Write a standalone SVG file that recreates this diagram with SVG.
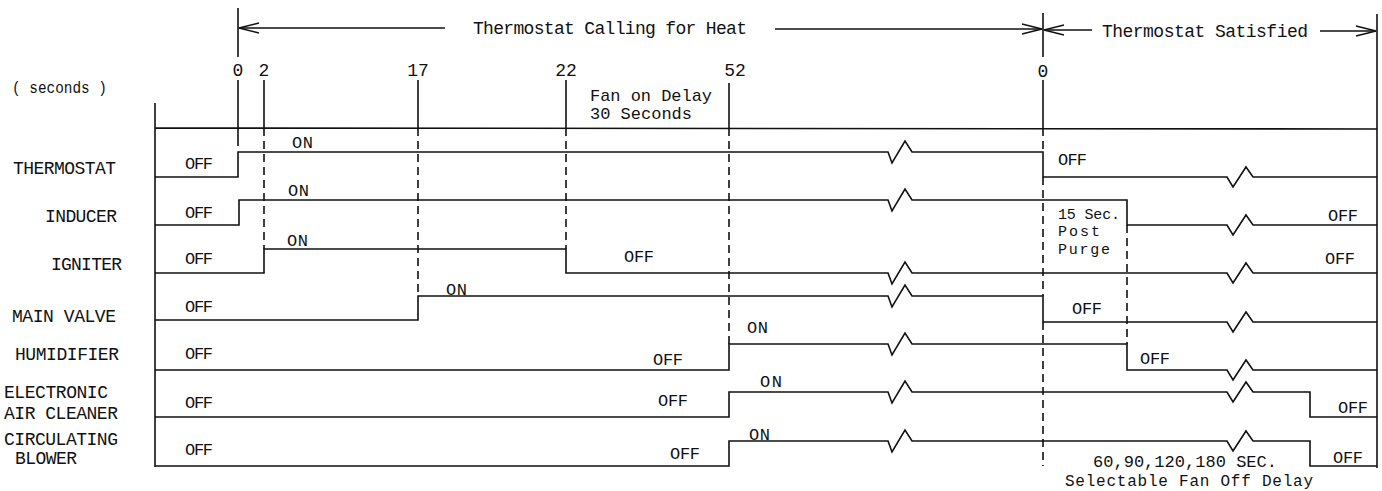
<svg xmlns="http://www.w3.org/2000/svg" width="1382" height="491" viewBox="0 0 1382 491">
<style>
.ln{fill:none;stroke:#111;stroke-width:1.6}
.dash{fill:none;stroke:#111;stroke-width:1.6;stroke-dasharray:8 5}
text{font-family:"Liberation Mono","DejaVu Sans Mono",monospace;fill:#111}
.lg{font-size:18px}
.md{font-size:17px}
.num{font-size:18px}
.sm{font-size:17px}
.xs{font-size:15px}
</style>
<defs>
<marker id="arr" viewBox="0 0 22 12" refX="21" refY="6" markerWidth="22" markerHeight="12" markerUnits="userSpaceOnUse" orient="auto">
<path d="M1,1 L21,6 L1,11" fill="none" stroke="#111" stroke-width="1.4"/>
</marker>
</defs>
<rect width="1382" height="491" fill="#fff"/>

<g id="frame">
<path class="ln" d="M155,103 L155,467 M155,128 L1377,129 M1377,14 L1377,468"/>
<path class="ln" d="M238,8 L238,57 M238,80 L238,146 M264,80 L264,128 M418,80 L418,128 M566,80 L566,128 M729,83 L729,128 M1043,13 L1043,57 M1043,80 L1043,128"/>
<path class="dash" d="M264,128 L264,249 M418,128 L418,296 M566,128 L566,249 M729,128 L729,344 M1043,128 L1043,152 M1043,177 L1043,296 M1043,322 L1043,466 M1127,225 L1127,344"/>
<text x="12" y="93" textLength="95" lengthAdjust="spacingAndGlyphs" style="font-size:16px">( seconds )</text>
<text class="num" x="238" y="76" text-anchor="middle">0</text>
<text class="num" x="264" y="76" text-anchor="middle">2</text>
<text class="num" x="418" y="76" text-anchor="middle">17</text>
<text class="num" x="566" y="76" text-anchor="middle">22</text>
<text class="num" x="735" y="76" text-anchor="middle">52</text>
<text class="num" x="1043" y="77" text-anchor="middle">0</text>
<text class="md" x="590" y="101" textLength="122">Fan on Delay</text>
<text class="md" x="590" y="119" textLength="102">30 Seconds</text>
</g>

<g id="connectors">
<line class="ln" x1="445" y1="28" x2="239" y2="28" marker-end="url(#arr)"/>
<line class="ln" x1="775" y1="29" x2="1042" y2="29" marker-end="url(#arr)"/>
<line class="ln" x1="1092" y1="30" x2="1044" y2="30" marker-end="url(#arr)"/>
<line class="ln" x1="1320" y1="31" x2="1376" y2="31" marker-end="url(#arr)"/>
<text class="lg" x="473" y="34" textLength="274">Thermostat Calling for Heat</text>
<text class="lg" x="1102" y="37" textLength="206">Thermostat Satisfied</text>
</g>

<g id="thermostat">
<text class="lg" x="13" y="174" textLength="103">THERMOSTAT</text>
<path class="ln" d="M155,177 L238,177 L238,152 L888,152 L892,163 L905,141 L912,152 L1043,152 L1043,177 L1227,177 L1233,187 L1246,167 L1253,177 L1377,177"/>
<text class="sm" x="185" y="169" textLength="28">OFF</text>
<text class="sm" x="292" y="148" textLength="21">ON</text>
<text class="sm" x="1058" y="165" textLength="29">OFF</text>
</g>

<g id="inducer">
<text class="lg" x="45" y="222" textLength="72">INDUCER</text>
<path class="ln" d="M155,225 L239,225 L239,200 L888,200 L892,211 L905,189 L912,200 L1127,200 L1127,225 L1227,225 L1233,235 L1246,215 L1253,225 L1377,225"/>
<text class="sm" x="185" y="218" textLength="28">OFF</text>
<text class="sm" x="288" y="196" textLength="21">ON</text>
<text class="sm" x="1328" y="221" textLength="30">OFF</text>
<text class="xs" x="1058" y="219" textLength="62">15 Sec.</text>
<text class="xs" x="1058" y="236" textLength="42">Post</text>
<text class="xs" x="1058" y="254" textLength="52">Purge</text>
</g>

<g id="igniter">
<text class="lg" x="51" y="270" textLength="71">IGNITER</text>
<path class="ln" d="M155,273 L264,273 L264,249 L566,249 L566,273 L888,273 L892,284 L905,262 L912,273 L1227,273 L1233,283 L1246,263 L1253,273 L1377,273"/>
<text class="sm" x="185" y="264" textLength="28">OFF</text>
<text class="sm" x="287" y="246" textLength="21">ON</text>
<text class="sm" x="624" y="262" textLength="30">OFF</text>
<text class="sm" x="1325" y="264" textLength="30">OFF</text>
</g>

<g id="main-valve">
<text class="lg" x="12" y="322" textLength="104">MAIN VALVE</text>
<path class="ln" d="M155,320 L418,320 L418,296 L888,296 L892,307 L905,285 L912,296 L1043,296 L1043,322 L1227,322 L1233,332 L1246,312 L1253,322 L1377,322"/>
<text class="sm" x="185" y="312" textLength="28">OFF</text>
<text class="sm" x="446" y="295" textLength="21">ON</text>
<text class="sm" x="1072" y="314" textLength="30">OFF</text>
</g>

<g id="humidifier">
<text class="lg" x="15" y="360" textLength="104">HUMIDIFIER</text>
<path class="ln" d="M155,370 L729,370 L729,344 L888,344 L892,355 L905,333 L912,344 L1127,344 L1127,370 L1227,370 L1233,380 L1246,360 L1253,370 L1377,370"/>
<text class="sm" x="185" y="359" textLength="28">OFF</text>
<text class="sm" x="747" y="333" textLength="21">ON</text>
<text class="sm" x="653" y="365" textLength="30">OFF</text>
<text class="sm" x="1140" y="364" textLength="30">OFF</text>
</g>

<g id="electronic-air-cleaner">
<text class="lg" x="4" y="398" textLength="104">ELECTRONIC</text>
<text class="lg" x="4" y="419" textLength="114">AIR CLEANER</text>
<path class="ln" d="M155,417 L729,417 L729,392 L888,392 L892,403 L905,381 L912,392 L1227,392 L1233,402 L1246,382 L1253,392 L1310,392 L1310,417 L1377,417"/>
<text class="sm" x="185" y="408" textLength="28">OFF</text>
<text class="sm" x="760" y="387" textLength="22">ON</text>
<text class="sm" x="658" y="406" textLength="30">OFF</text>
<text class="sm" x="1338" y="413" textLength="30">OFF</text>
</g>

<g id="circulating-blower">
<text class="lg" x="4" y="445" textLength="114">CIRCULATING</text>
<text class="lg" x="15" y="464" textLength="62">BLOWER</text>
<path class="ln" d="M155,466 L729,466 L729,441 L888,441 L892,452 L905,430 L912,441 L1227,441 L1233,451 L1246,431 L1253,441 L1310,441 L1310,466 L1377,466"/>
<text class="sm" x="185" y="455" textLength="28">OFF</text>
<text class="sm" x="749" y="440" textLength="21">ON</text>
<text class="sm" x="670" y="459" textLength="30">OFF</text>
<text class="sm" x="1333" y="463" textLength="30">OFF</text>
<text class="md" x="1093" y="467" textLength="184">60,90,120,180 SEC.</text>
<text class="md" x="1065" y="486" textLength="248" style="font-size:16px">Selectable Fan Off Delay</text>
</g>
</svg>
